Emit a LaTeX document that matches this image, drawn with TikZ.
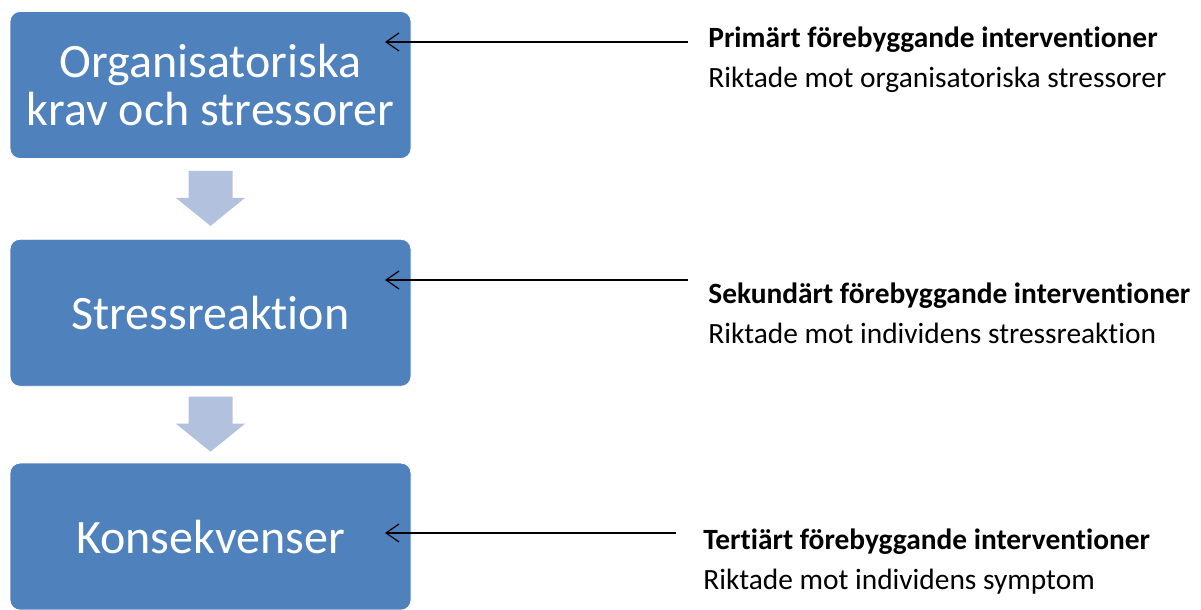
\documentclass[tikz,border=0pt]{standalone}
\usepackage{fontspec}
\setmainfont[Ligatures=NoCommon]{Carlito}
\usetikzlibrary{positioning, arrows.meta}
\definecolor{boxblue}{RGB}{79,129,189}
\definecolor{flowblue}{RGB}{178,193,221}
\tikzset{
  x=0.5pt, y=0.5pt,
  box/.style={fill=boxblue, draw=white, rounded corners=5pt, minimum width=200.5pt,
    minimum height=73.5pt, text=white, align=center, inner sep=0pt,
    font=\fontsize{24}{24}\selectfont},
  flow/.style={fill=flowblue},
  pointer/.style={<-, >={Straight Barb[length=6.5pt,width=9pt]}, line width=0.6pt},
  level/.style={anchor=west, align=left, inner sep=0pt,
    font=\fontsize{14.7}{20}\selectfont},
}

\begin{document}
\begin{tikzpicture}
  \useasboundingbox (0,0) rectangle (1201,610);

  % boxes
  \node[box] (org) at (210.5,525) {Organisatoriska\\krav och stressorer};
  \node[box, below=40pt of org] (reak) {Stressreaktion};
  \node[box, below=38pt of reak] (kons) {Konsekvenser};

  % block arrows
  \path (org.south) -- (reak.north) coordinate[midway] (a1);
  \path (reak.south) -- (kons.north) coordinate[midway] (a2);
  \foreach \a in {a1,a2}
    \fill[flow, shift={(\a)}] (-22,28) -- (22,28) -- (22,1) -- (34.5,1)
      -- (0,-27) -- (-34.5,1) -- (-22,1) -- cycle;

  % interventions
  \node[level] (prim) at (708,550) {\textbf{Primärt förebyggande interventioner}\\Riktade mot organisatoriska stressorer};
  \node[level] (sek) at (708,297) {\textbf{Sekundärt förebyggande interventioner}\\Riktade mot individens stressreaktion};
  \node[level] (ter) at (703,48.5) {\textbf{Tertiärt förebyggande interventioner}\\Riktade mot individens symptom};

  % pointers
  \coordinate (t1) at (385,568);
  \coordinate (e1) at (688,568);
  \coordinate (t2) at (385,330);
  \coordinate (e2) at (688,330);
  \coordinate (t3) at (385,77);
  \coordinate (e3) at (676,77);
  \draw[pointer] (t1) -- (e1);
  \draw[pointer] (t2) -- (e2);
  \draw[pointer] (t3) -- (e3);
\end{tikzpicture}
\end{document}
